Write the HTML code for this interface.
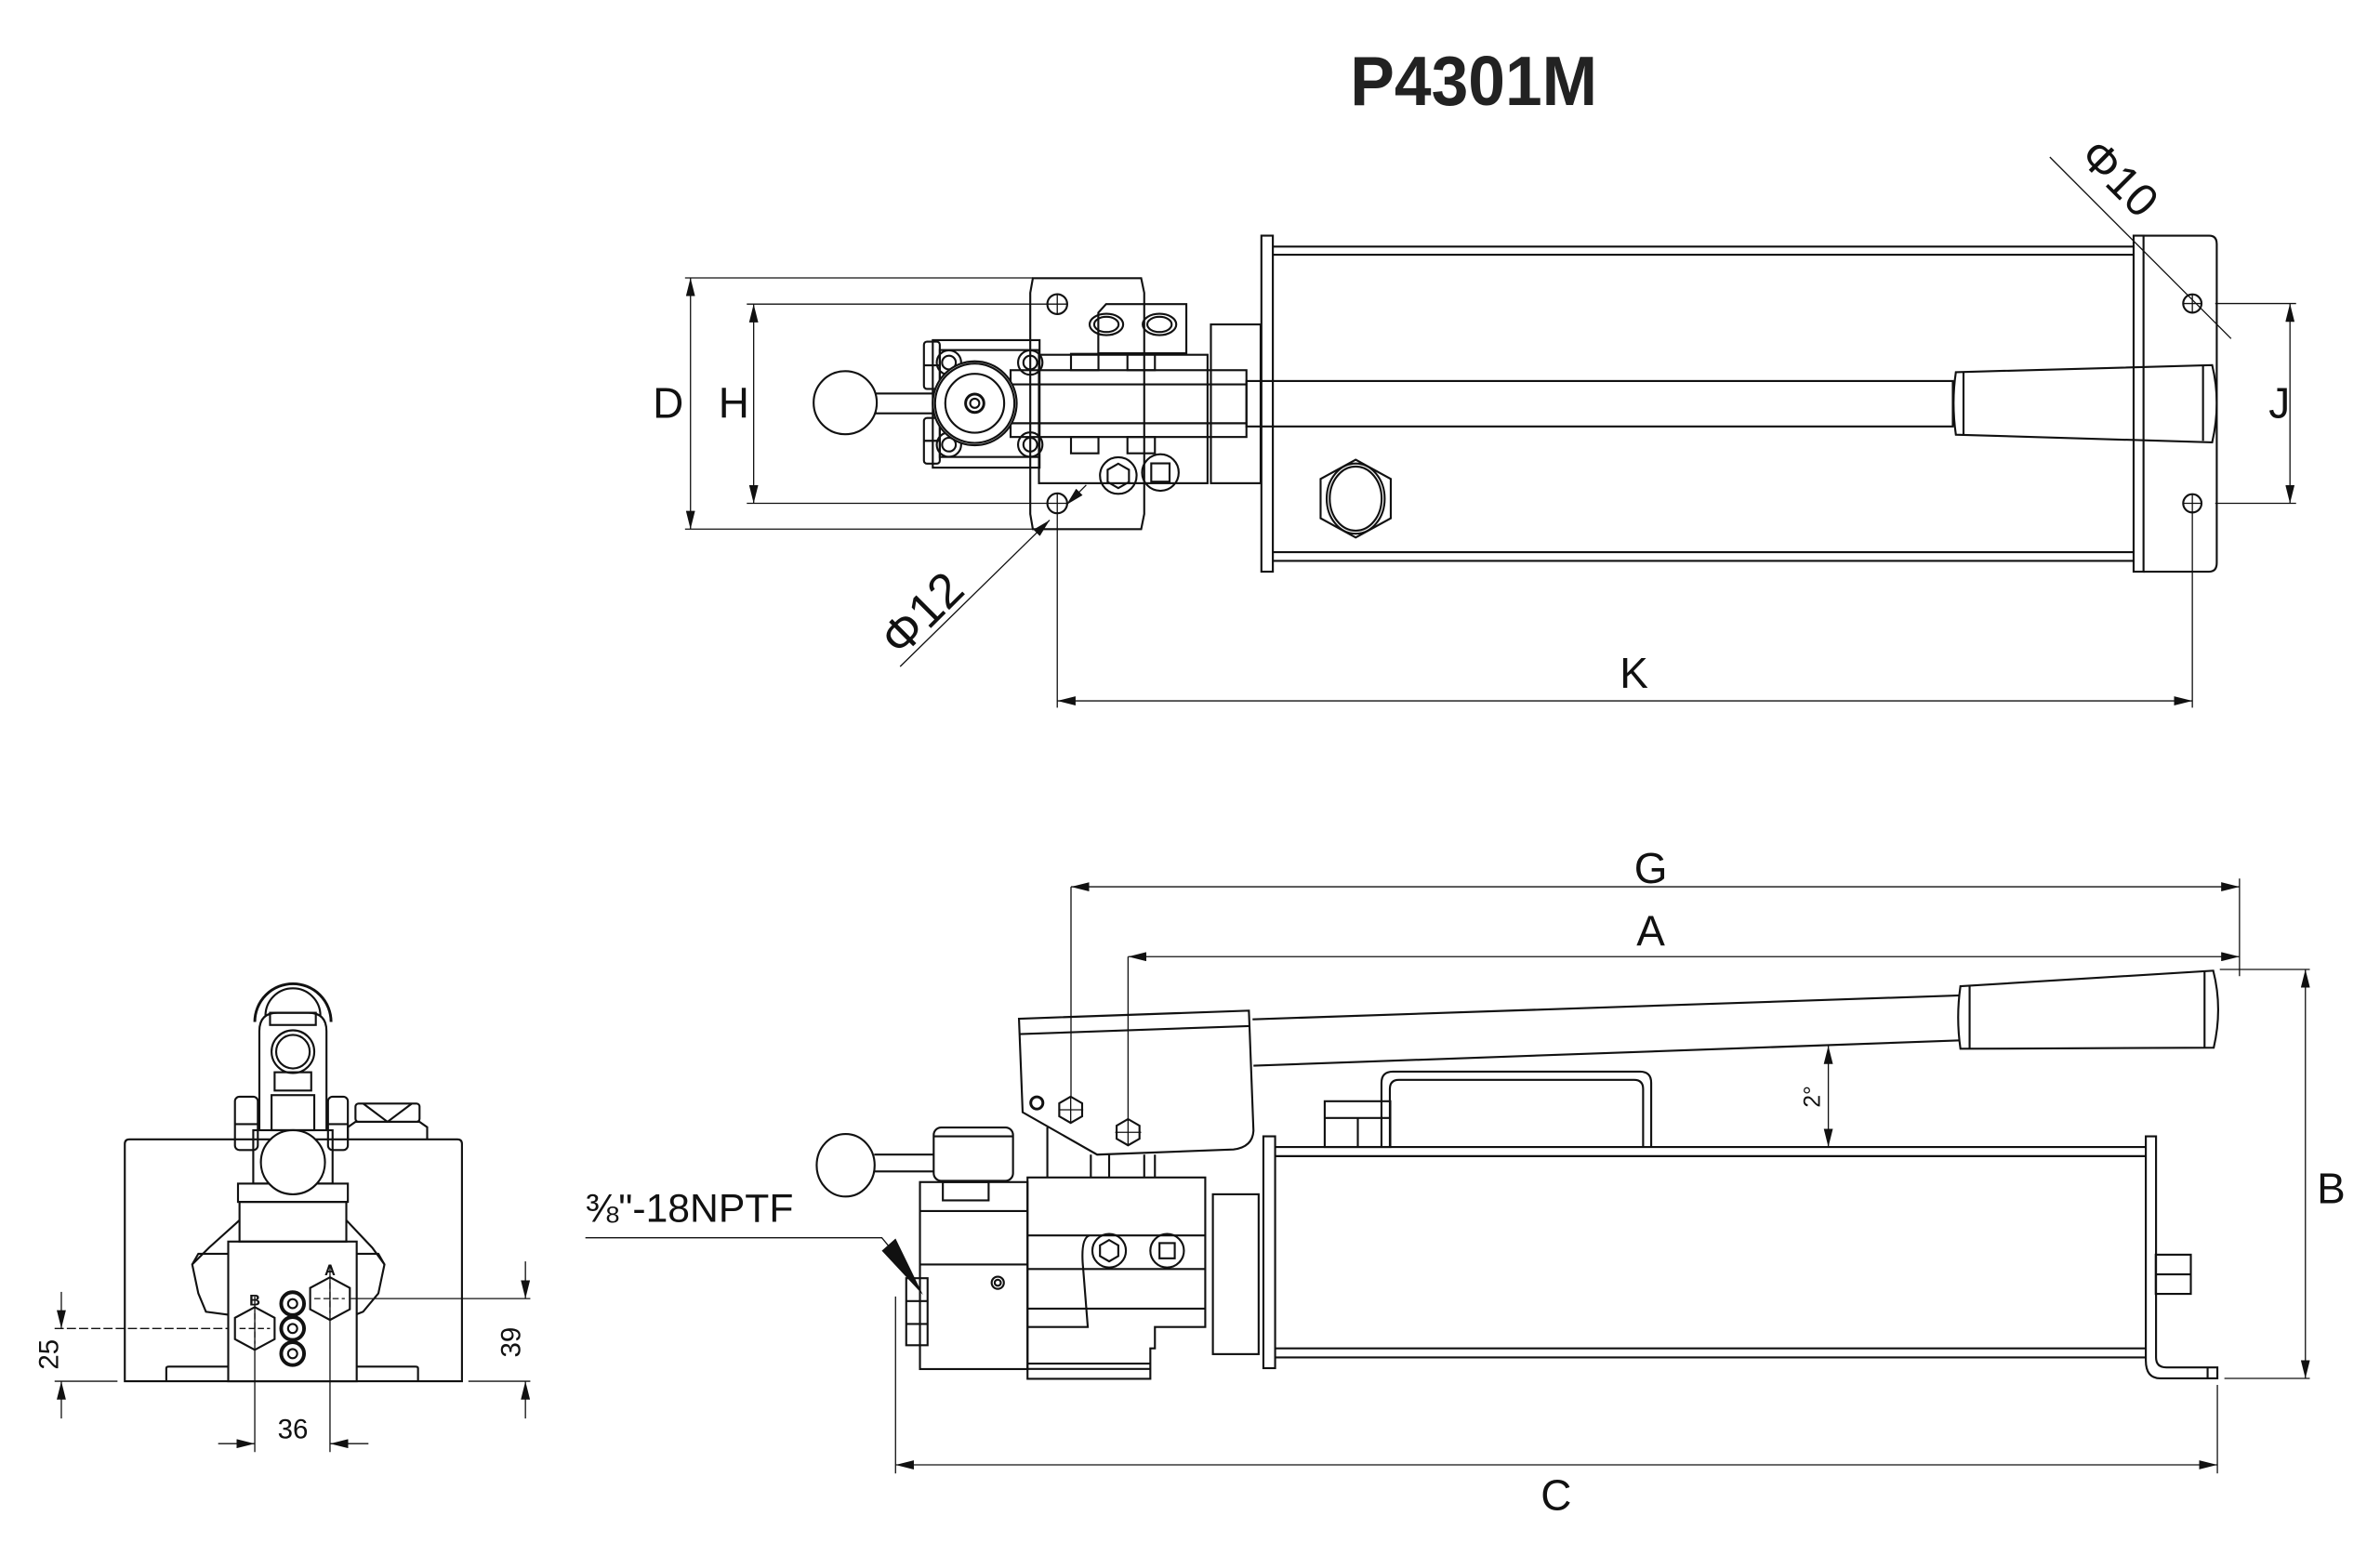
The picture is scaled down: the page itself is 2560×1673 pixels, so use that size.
<!DOCTYPE html>
<html><head><meta charset="utf-8"><style>
html,body{margin:0;padding:0;background:#fff;}
svg{display:block;}
text{font-family:"Liberation Sans Narrow","Liberation Sans",sans-serif;fill:#111;}
</style></head><body>
<svg width="2560" height="1673" viewBox="0 0 1560 1019.5" preserveAspectRatio="none" xmlns="http://www.w3.org/2000/svg">
<defs>
<marker id="ar" viewBox="0 0 12 6" refX="12" refY="3" markerWidth="12" markerHeight="6" orient="auto-start-reverse" markerUnits="userSpaceOnUse"><path d="M0,0 L12,3 L0,6 z" fill="#111"/></marker>
</defs>
<rect width="1560" height="1019.5" fill="#fff"/>
<text x="885" y="69" font-weight="bold" font-size="46" textLength="162" lengthAdjust="spacingAndGlyphs" style="font-family:'Liberation Sans',sans-serif;fill:#222">P4301M</text>

<g fill="none" stroke="#111" stroke-width="1.3">
<!-- ===== TOP VIEW ===== -->
<rect x="826.8" y="154.5" width="7.5" height="220.3"/>
<line x1="834.3" y1="161.7" x2="1398.5" y2="161.7"/><line x1="834.3" y1="167" x2="1398.5" y2="167"/>
<line x1="834.3" y1="362" x2="1398.5" y2="362"/><line x1="834.3" y1="367.7" x2="1398.5" y2="367.7"/>
<rect x="1398.5" y="154.5" width="6.5" height="220.3"/>
<path d="M1405,154.5 H1448 Q1453,154.5 1453,160 V369 Q1453,374.8 1448,374.8 H1405"/>
<polygon points="888.6,301.4 911.6,314 911.6,339.8 888.6,352.4 865.6,339.8 865.6,314"/>
<ellipse cx="888.6" cy="326.9" rx="19" ry="23"/><ellipse cx="888.6" cy="326.9" rx="17" ry="21"/>
<rect x="817" y="249.8" width="463" height="29.8"/>
<rect x="662.4" y="242.7" width="154.6" height="43.8"/>
<line x1="662.4" y1="252" x2="817" y2="252"/><line x1="662.4" y1="277.5" x2="817" y2="277.5"/>
<path d="M1282,244 L1450,239.4 Q1456,264 1450,290 L1282,285 Q1279,264 1282,244 z"/>
<line x1="1287" y1="244" x2="1287" y2="285"/><line x1="1444" y1="240" x2="1444" y2="289"/>
<path d="M677,182.4 H748 L750,192 V337 L748,346.9 H677 L675.3,337 V192 z"/>
<path d="M725,199.4 H777.6 V231.6 H719.9 V205 z"/>
<ellipse cx="725.2" cy="212.7" rx="11" ry="7"/><ellipse cx="725.2" cy="212.7" rx="8" ry="5"/>
<ellipse cx="760" cy="212.7" rx="11" ry="7"/><ellipse cx="760" cy="212.7" rx="8" ry="5"/>
<rect x="681" y="232.6" width="110.5" height="84.2"/>
<rect x="793.7" y="212.7" width="32.6" height="104.1"/>
<rect x="702" y="232" width="18" height="10.7"/><rect x="739" y="232" width="18" height="10.7"/>
<rect x="702" y="286.5" width="18" height="10.7"/><rect x="739" y="286.5" width="18" height="10.7"/>
<circle cx="733" cy="311.8" r="12"/><polygon points="733,304 740,308 740,316 733,320 726,316 726,308"/>
<circle cx="760.6" cy="309.8" r="12"/><rect x="754.6" y="303.8" width="12" height="12"/>
<rect x="611.4" y="223" width="70" height="83.6"/>
<rect x="616" y="229.5" width="65" height="70.1"/>
<circle cx="622" cy="237.7" r="8"/><circle cx="675.3" cy="237.7" r="8"/><circle cx="622" cy="291.5" r="8"/><circle cx="675.3" cy="291.5" r="8"/>
<circle cx="622" cy="237.7" r="4.5"/><circle cx="675.3" cy="237.7" r="4.5"/><circle cx="622" cy="291.5" r="4.5"/><circle cx="675.3" cy="291.5" r="4.5"/>
<rect x="605.6" y="224" width="10.4" height="31" rx="2"/><rect x="605.6" y="274" width="10.4" height="30" rx="2"/>
<line x1="605.6" y1="239.5" x2="616" y2="239.5"/><line x1="605.6" y1="289" x2="616" y2="289"/>
<rect x="573.8" y="258" width="38.6" height="13"/>
<circle cx="554" cy="264" r="20.7" fill="#fff"/>
<circle cx="638.9" cy="264.4" r="27.5" fill="#fff"/><circle cx="638.9" cy="264.4" r="26"/>
<circle cx="638.9" cy="264.4" r="19.3"/><circle cx="638.9" cy="264.4" r="6" stroke-width="1.8"/><circle cx="638.9" cy="264.4" r="3"/>
<circle cx="693" cy="199.4" r="6.5"/><circle cx="693" cy="330" r="6.5"/>
<circle cx="1437" cy="199" r="6"/><circle cx="1437" cy="330" r="6"/>
</g>
<g fill="none" stroke="#111" stroke-width="0.8">
<path d="M686,199.4 H700 M693,192.4 V206.4 M686,330 H700 M693,323 V337 M1431,199 H1443 M1437,193 V205 M1431,330 H1443 M1437,324 V336"/>
<line x1="449" y1="182.2" x2="677" y2="182.2"/><line x1="449" y1="346.9" x2="677" y2="346.9"/>
<line x1="452.6" y1="182.2" x2="452.6" y2="346.9" marker-start="url(#ar)" marker-end="url(#ar)"/>
<line x1="489.5" y1="199.4" x2="686" y2="199.4"/><line x1="489.5" y1="330" x2="686" y2="330"/>
<line x1="494" y1="199.4" x2="494" y2="330" marker-start="url(#ar)" marker-end="url(#ar)"/>
<line x1="1452" y1="199" x2="1505" y2="199"/><line x1="1452" y1="330" x2="1505" y2="330"/>
<line x1="1501" y1="199" x2="1501" y2="330" marker-start="url(#ar)" marker-end="url(#ar)"/>
<line x1="693" y1="337" x2="693" y2="464"/><line x1="1437" y1="336" x2="1437" y2="464"/>
<line x1="693" y1="459.5" x2="1437" y2="459.5" marker-start="url(#ar)" marker-end="url(#ar)"/>
<!-- phi12 -->
<line x1="590" y1="437" x2="688" y2="341" marker-end="url(#ar)"/>
<line x1="712" y1="318" x2="699" y2="331" marker-end="url(#ar)"/>
<!-- phi10 -->
<line x1="1343.6" y1="103" x2="1462.4" y2="222"/>
</g>
<text x="438" y="274" font-size="28" text-anchor="middle">D</text>
<text x="481" y="274" font-size="28" text-anchor="middle">H</text>
<text x="1494" y="274" font-size="28" text-anchor="middle">J</text>
<text x="1071" y="451" font-size="28" text-anchor="middle">K</text>
<text x="0" y="0" font-size="32" text-anchor="middle" transform="translate(612,410) rotate(-45)">Φ12</text>
<text x="0" y="0" font-size="30" text-anchor="middle" transform="translate(1382,124) rotate(45)">Φ10</text>

<!-- ===== SIDE VIEW ===== -->
<g fill="none" stroke="#111" stroke-width="1.3">
<rect x="828.1" y="745" width="7.7" height="152"/>
<line x1="835.8" y1="752" x2="1406.5" y2="752"/><line x1="835.8" y1="758" x2="1406.5" y2="758"/>
<line x1="835.8" y1="884" x2="1406.5" y2="884"/><line x1="835.8" y1="890" x2="1406.5" y2="890"/>
<path d="M1406.5,745 V892 Q1406.5,903.7 1416,903.7 H1453.4 V896.5 H1420 Q1413.2,896.5 1413.2,890 V745 z"/>
<line x1="1447" y1="896.5" x2="1447" y2="903.7"/>
<rect x="1413" y="822.6" width="23" height="25.7"/><line x1="1413" y1="835.5" x2="1436" y2="835.5"/>
<path d="M905.5,752 V710 Q905.5,702.6 913,702.6 H1075 Q1082.3,702.6 1082.3,710 V752"/>
<path d="M911,752 V714 Q911,708 917,708 H1071 Q1077,708 1077,714 V752"/>
<rect x="868.3" y="722" width="43" height="30"/><line x1="890" y1="733" x2="890" y2="752"/><line x1="868.3" y1="733" x2="911.3" y2="733"/>
<path d="M667.9,667.9 L818.6,662.6 L821.6,741.4 Q821,752 808.5,753.6 L719.1,757 L670.3,729.2 z" fill="#fff"/>
<line x1="668.3" y1="678" x2="818.6" y2="672.7"/>
<line x1="821" y1="668.3" x2="1285" y2="652.6"/>
<line x1="821.6" y1="698.7" x2="1285" y2="682.1"/>
<path d="M1285,646.6 L1450.7,636.4 Q1457,661 1451,686.9 L1285,687.6 Q1282,667 1285,646.6 z" fill="#fff"/>
<line x1="1291" y1="646.3" x2="1291" y2="687.6"/><line x1="1445" y1="637" x2="1445" y2="686.9"/>
<polygon points="701.8,719 709.3,723.3 709.3,731.9 701.8,736.2 694.3,731.9 694.3,723.3"/>
<polygon points="739.4,733.7 746.9,738 746.9,746.6 739.4,750.9 731.9,746.6 731.9,738"/>
<circle cx="679.6" cy="723.1" r="4" stroke-width="1.8"/>
<line x1="715" y1="757" x2="715" y2="771.8"/><line x1="727" y1="757" x2="727" y2="771.8"/>
<line x1="750" y1="757" x2="750" y2="771.8"/><line x1="757" y1="757" x2="757" y2="771.8"/>
<line x1="686.5" y1="739" x2="686.5" y2="771.8"/>
<rect x="612" y="739.2" width="52" height="35" rx="5"/>
<line x1="612" y1="745" x2="664" y2="745"/>
<rect x="603" y="775" width="70.5" height="122.6"/>
<line x1="603" y1="794" x2="673.5" y2="794"/><rect x="618" y="775" width="30" height="12"/>
<line x1="603" y1="829" x2="673.5" y2="829"/>
<circle cx="654" cy="841" r="4"/><circle cx="654" cy="841" r="2"/>
<path d="M673.5,772 H790 V870 H757 V884 H754 V904 H673.5 z"/>
<line x1="673.5" y1="894" x2="754" y2="894"/><line x1="673.5" y1="897.5" x2="754" y2="897.5"/>
<line x1="673.5" y1="832" x2="790" y2="832"/><line x1="673.5" y1="858" x2="790" y2="858"/>
<line x1="673.5" y1="810" x2="790" y2="810"/>
<path d="M714,810 Q708,812 710,832 L713,870 H673.5"/>
<circle cx="727" cy="820" r="11"/><polygon points="727,813 733,816.5 733,823.5 727,827 721,823.5 721,816.5"/>
<circle cx="765" cy="820" r="11"/><rect x="760" y="815" width="10" height="10"/>
<rect x="795" y="783" width="30" height="104.8"/>
<path d="M594,838 H608 V882 H594 z"/><line x1="594" y1="853" x2="608" y2="853"/><line x1="594" y1="868" x2="608" y2="868"/>
<line x1="573" y1="757" x2="612" y2="757"/><line x1="573" y1="768" x2="612" y2="768"/>
<ellipse cx="554.3" cy="764" rx="19" ry="20.5" fill="#fff"/>
</g>
<g fill="none" stroke="#111" stroke-width="0.8">
<path d="M694,727.6 H710 M701.8,719.5 V736 M731,742.4 H748 M739.4,734 V751"/>
<line x1="702" y1="581.4" x2="702" y2="719"/>
<line x1="702" y1="581.4" x2="1467.9" y2="581.4" marker-start="url(#ar)" marker-end="url(#ar)"/>
<line x1="739.4" y1="627.2" x2="739.4" y2="733.7"/>
<line x1="739.4" y1="627.2" x2="1467.9" y2="627.2" marker-start="url(#ar)" marker-end="url(#ar)"/>
<line x1="1467.9" y1="576" x2="1467.9" y2="640"/>
<line x1="1455" y1="635.6" x2="1514" y2="635.6"/><line x1="1458" y1="903.7" x2="1514" y2="903.7"/>
<line x1="1511.1" y1="635.6" x2="1511.1" y2="903.7" marker-start="url(#ar)" marker-end="url(#ar)"/>
<line x1="587" y1="850" x2="587" y2="966"/><line x1="1453.4" y1="908" x2="1453.4" y2="966"/>
<line x1="587" y1="960.4" x2="1453.4" y2="960.4" marker-start="url(#ar)" marker-end="url(#ar)"/>
<line x1="1198.4" y1="685.6" x2="1198.4" y2="752" marker-start="url(#ar)" marker-end="url(#ar)"/>
<polyline points="383.7,811.5 578,811.5 585,820"/>
</g>
<polygon points="578,820 587,812 605,849" fill="#111"/>
<text x="1082" y="579" font-size="28" text-anchor="middle">G</text>
<text x="1082" y="620" font-size="28" text-anchor="middle">A</text>
<text x="1528" y="789" font-size="28" text-anchor="middle">B</text>
<text x="1020" y="990" font-size="28" text-anchor="middle">C</text>
<text x="0" y="0" font-size="15" text-anchor="middle" transform="translate(1193,719) rotate(-90)">2°</text>
<text x="383.7" y="801" font-size="26" style="font-family:'Liberation Sans',sans-serif">⅜"-18NPTF</text>

<!-- ===== FRONT VIEW ===== -->
<g fill="none" stroke="#111" stroke-width="1.3">
<path d="M81.8,905.6 V750 Q81.8,747 84.8,747 H299.8 Q302.8,747 302.8,750 V905.6 z" fill="#fff"/>
<path d="M109,905.6 V897 Q109,896 111,896 H272 Q274,896 274,897 V905.6"/>
<path d="M150,822 L130,822 L126,829 L130,848 L135,860 L150,862"/>
<path d="M157,800 L137,818 L126,829"/>
<path d="M233,822 L248,822 L252,829 L248,848 L238,860 L233,862"/>
<path d="M227,800 L244,818 L252,829"/>
<rect x="149.6" y="814" width="84.2" height="91.6" fill="#fff"/>
<rect x="157" y="788" width="70" height="26"/>
<rect x="156" y="776" width="72" height="12"/>
<rect x="166" y="741" width="52" height="35"/>
<circle cx="192" cy="762" r="21" fill="#fff"/>
<path d="M170,741 V676 Q170,664 182,664 H202 Q214,664 214,676 V741"/>
<path d="M167,670 A25,25 0 1 1 217,670" stroke-width="1.8"/>
<path d="M174,666 A18,18 0 1 1 210,666"/>
<rect x="177" y="664" width="30" height="8"/>
<circle cx="192" cy="689.5" r="14"/><circle cx="192" cy="689.5" r="11"/>
<rect x="180" y="703" width="24" height="12"/>
<rect x="178" y="718" width="28" height="23"/>
<rect x="154" y="719" width="15" height="35" rx="3"/><line x1="154" y1="737" x2="169" y2="737"/>
<rect x="215" y="719" width="13" height="35" rx="3"/><line x1="215" y1="737" x2="228" y2="737"/>
<rect x="233" y="723.5" width="42" height="12" rx="2"/>
<path d="M228,747 V739 L233,735.5 H275 L280,739 V747"/>
<path d="M238,723.5 L254,735.5 L270,723.5"/>
<polygon points="167,857 180,864 180,878 167,885 154,878 154,864"/>
<polygon points="216.3,837.4 229.3,844.4 229.3,858.4 216.3,865.4 203.3,858.4 203.3,844.4"/>
<circle cx="191.8" cy="854.7" r="7.5" stroke-width="2.4"/><circle cx="191.8" cy="854.7" r="3"/>
<circle cx="191.8" cy="871" r="7.5" stroke-width="2.4"/><circle cx="191.8" cy="871" r="3"/>
<circle cx="191.8" cy="887.5" r="7.5" stroke-width="2.4"/><circle cx="191.8" cy="887.5" r="3"/>
</g>
<g fill="none" stroke="#111" stroke-width="0.8">
<line x1="35.8" y1="871" x2="150" y2="871" stroke-dasharray="6,2"/>
<line x1="35.8" y1="905.6" x2="77" y2="905.6"/>
<line x1="40.2" y1="847" x2="40.2" y2="871" marker-end="url(#ar)"/>
<line x1="40.2" y1="930" x2="40.2" y2="905.6" marker-end="url(#ar)"/>
<line x1="230" y1="851.4" x2="347.6" y2="851.4"/>
<line x1="307" y1="905.6" x2="347.6" y2="905.6"/>
<line x1="344.4" y1="827" x2="344.4" y2="851.4" marker-end="url(#ar)"/>
<line x1="344.4" y1="930" x2="344.4" y2="905.6" marker-end="url(#ar)"/>
<line x1="167" y1="850" x2="167" y2="952"/><line x1="216.3" y1="830" x2="216.3" y2="952"/>
<line x1="143" y1="946.5" x2="167" y2="946.5" marker-end="url(#ar)"/>
<line x1="241.5" y1="946.5" x2="216.3" y2="946.5" marker-end="url(#ar)"/>
<path d="M157,871 H177 M167,861 V881 M206,851.4 H226 M216.3,841 V861" stroke-dasharray="4,2"/>
</g>
<text x="167" y="856" font-size="10" font-weight="bold" text-anchor="middle" style="font-family:'Liberation Sans',sans-serif">B</text>
<text x="216.3" y="836" font-size="10" font-weight="bold" text-anchor="middle" style="font-family:'Liberation Sans',sans-serif">A</text>
<text x="0" y="0" font-size="18" text-anchor="middle" transform="translate(38,888) rotate(-90)">25</text>
<text x="0" y="0" font-size="18" text-anchor="middle" transform="translate(341,880) rotate(-90)">39</text>
<text x="192" y="943" font-size="18" text-anchor="middle">36</text>
</svg>
</body></html>
